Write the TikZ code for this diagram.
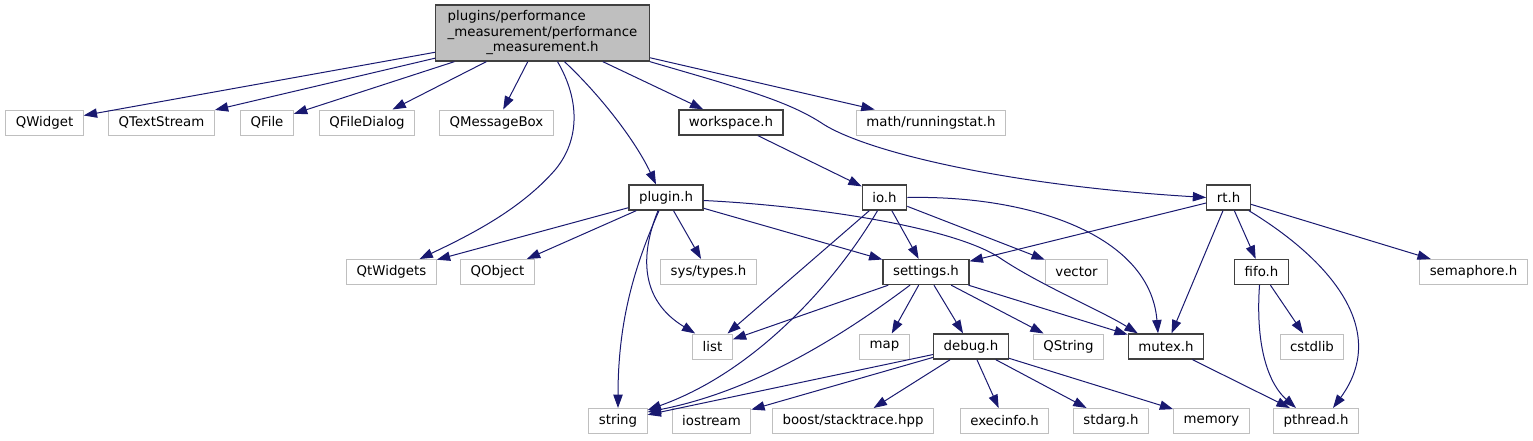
\documentclass[tikz,border=0pt]{standalone}
\usepackage{fontspec}
\setmainfont{DejaVu Sans}
\usepackage{tikz}
\usetikzlibrary{arrows.meta,calc}
\definecolor{inclblue}{HTML}{191970}
\definecolor{sysgray}{HTML}{BFBFBF}
\definecolor{projgray}{HTML}{404040}
\tikzset{
  sysfile/.style={rectangle,draw=sysgray,fill=white,text=black,line width=0.75pt,
    minimum height=18.75pt,inner xsep=7.5pt,inner ysep=0pt,font=\fontsize{10}{11.5}\selectfont},
  projfile/.style={sysfile,draw=projgray,line width=1pt},
  mainfile/.style={projfile,fill=sysgray,minimum height=42pt,inner xsep=9pt},
  incl/.style={-{Triangle[length=10pt,width=7pt]},draw=inclblue,line width=0.75pt},
}
\begin{document}
\begin{tikzpicture}[x=0.75pt,y=-0.75pt]
  \useasboundingbox (0,0) rectangle (1533,440);
  \node[mainfile] (perf) at (542.5,33) {\begin{tabular}{@{}l@{}}plugins/performance\\\_measurement/performance\\\multicolumn{1}{@{}c@{}}{\_measurement.h}\end{tabular}};
  \node[sysfile] (qwidget) at (44.5,122.5) {QWidget};
  \node[sysfile] (qtextstream) at (161.5,122.5) {QTextStream};
  \node[sysfile] (qfile) at (267,122.5) {QFile};
  \node[sysfile] (qfiledialog) at (367,122.5) {QFileDialog};
  \node[sysfile] (qmessagebox) at (496.5,122.5) {QMessageBox};
  \node[projfile] (workspace) at (731,122.5) {workspace.h};
  \node[sysfile] (runstat) at (931,122.5) {math/runningstat.h};
  \node[projfile] (plugin) at (666,197.5) {plugin.h};
  \node[projfile] (io) at (884.5,197.5) {io.h};
  \node[projfile] (rt) at (1228.5,197.5) {rt.h};
  \node[sysfile] (qtwidgets) at (391.5,272) {QtWidgets};
  \node[sysfile] (qobject) at (497.5,272) {QObject};
  \node[sysfile] (systypes) at (708.5,272) {sys/types.h};
  \node[projfile] (settings) at (926,272) {settings.h};
  \node[sysfile] (vector) at (1076.5,272) {vector};
  \node[projfile] (fifo) at (1261.5,272) {fifo.h};
  \node[sysfile] (semaphore) at (1473.5,272) {semaphore.h};
  \node[sysfile] (list) at (712.5,346.5) {list};
  \node[sysfile] (map) at (884.5,346.5) {map};
  \node[projfile] (debug) at (971,346.5) {debug.h};
  \node[sysfile] (qstring) at (1068.5,346.5) {QString};
  \node[projfile] (mutex) at (1166,346.5) {mutex.h};
  \node[sysfile] (cstdlib) at (1312,346.5) {cstdlib};
  \node[sysfile] (string) at (618,421) {string};
  \node[sysfile] (iostream) at (711.5,421) {iostream};
  \node[sysfile] (boost) at (853,421) {boost/stacktrace.hpp};
  \node[sysfile] (execinfo) at (1004.5,421) {execinfo.h};
  \node[sysfile] (stdarg) at (1111,421) {stdarg.h};
  \node[sysfile] (memory) at (1211.5,421) {memory};
  \node[sysfile] (pthread) at (1316,421) {pthread.h};
  \draw[incl] (perf) -- (qwidget);
  \draw[incl] (perf) -- (qtextstream);
  \draw[incl] (perf) -- (qfile);
  \draw[incl] (perf) -- (qfiledialog);
  \draw[incl] (perf) -- (qmessagebox);
  \draw[incl] ($(perf.south)+(15,0)$) .. controls (580,100) and (580,140) .. (555,170)
    .. controls (520,210) and (470,235) .. ($(qtwidgets.north)+(28,0)$);
  \draw[incl] ($(perf.south)+(22,0)$) .. controls (600,95) and (635,140) .. ($(plugin.north)+(-10,0)$);
  \draw[incl] (perf) -- (workspace);
  \draw[incl] (perf.south east) .. controls (740,88) and (785,100) .. (820,122)
    .. controls (860,150) and (1000,185) .. (rt.west);
  \draw[incl] (perf) -- (runstat);
  \draw[incl] (workspace) -- (io);
  \draw[incl] (plugin) -- (qtwidgets);
  \draw[incl] (plugin) -- (qobject);
  \draw[incl] (plugin) -- (systypes);
  \draw[incl] ($(plugin.south)+(-8,0)$) .. controls (640,255) and (640,300) .. ($(list.north west)+(3,0)$);
  \draw[incl] ($(plugin.south)+(-7,0)$) .. controls (635,265) and (618,320) .. (string.north);
  \draw[incl] (plugin) -- (settings);
  \draw[incl] ($(plugin.east)+(0,3)$) .. controls (800,205) and (950,225) .. (1000,258)
    .. controls (1040,285) and (1100,310) .. ($(mutex.north west)+(10,0)$);
  \draw[incl] (io) -- (settings);
  \draw[incl] (io) -- (list);
  \draw[incl] ($(io.south)+(-7,0)$) .. controls (840,275) and (760,370) .. ($(string.north east)+(0,2)$);
  \draw[incl] (io) -- (vector);
  \draw[incl] (io.east) .. controls (1030,195) and (1150,235) .. ($(mutex.north)+(-8,0)$);
  \draw[incl] (rt) -- (settings);
  \draw[incl] (rt) -- (mutex);
  \draw[incl] (rt) -- (fifo);
  \draw[incl] ($(rt.south east)+(-2,0)$) .. controls (1330,260) and (1390,330) .. ($(pthread.north)+(17,0)$);
  \draw[incl] (rt) -- (semaphore);
  \draw[incl] (settings) -- (list);
  \draw[incl] ($(settings.south)+(-16,0)$) .. controls (850,330) and (760,390) .. ($(string.north east)+(0,4)$);
  \draw[incl] (settings) -- (map);
  \draw[incl] (settings) -- (debug);
  \draw[incl] (settings) -- (qstring);
  \draw[incl] (settings) -- (mutex);
  \draw[incl] (debug) -- (string);
  \draw[incl] (debug) -- (iostream);
  \draw[incl] (debug) -- (boost);
  \draw[incl] (debug) -- (execinfo);
  \draw[incl] (debug) -- (stdarg);
  \draw[incl] (debug) -- (memory);
  \draw[incl] (fifo) -- (cstdlib);
  \draw[incl] ($(fifo.south)+(-2,0)$) .. controls (1255,350) and (1270,385) .. ($(pthread.north)+(-20,0)$);
  \draw[incl] (mutex) -- (pthread);
\end{tikzpicture}
\end{document}
